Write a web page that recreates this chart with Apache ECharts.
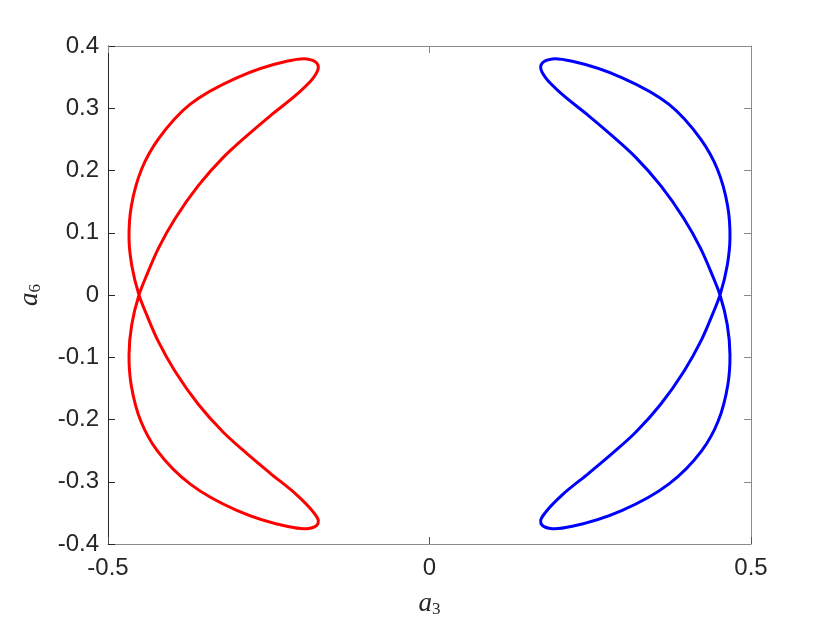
<!DOCTYPE html>
<html>
<head>
<meta charset="utf-8">
<script src="https://cdn.jsdelivr.net/npm/echarts@6/dist/echarts.min.js"></script>
<style>html,body{margin:0;padding:0;background:#fff;}#c{width:830px;height:623px;}</style>
</head>
<body>
<div id="c"></div>
<script>
// Red closed curve (a3, a6), in path order: upper lobe (outer up, inner down), then lower lobe (outer down, inner up)
const redX = [-0.4518,-0.4631,-0.4673,-0.4636,-0.4476,-0.4218,-0.3725,-0.2998,-0.2221,-0.1910,-0.1754,-0.1729,-0.1807,-0.2065,-0.2481,-0.2843,-0.3207,-0.3596,-0.3958,-0.4218,-0.4398,
              -0.4518,-0.4631,-0.4673,-0.4640,-0.4490,-0.4235,-0.3725,-0.2998,-0.2221,-0.1910,-0.1754,-0.1729,-0.1807,-0.2065,-0.2481,-0.2843,-0.3207,-0.3596,-0.3958,-0.4218,-0.4398];
const redY = [0,0.0479,0.0906,0.1433,0.2024,0.2503,0.3062,0.3489,0.3754,0.3792,0.3728,0.3649,0.3489,0.3222,0.2875,0.2556,0.2211,0.1757,0.1225,0.0746,0.0319,
              0,-0.0479,-0.0958,-0.1440,-0.2024,-0.2500,-0.3035,-0.3460,-0.3716,-0.3754,-0.3700,-0.3620,-0.3487,-0.3210,-0.2860,-0.2545,-0.2205,-0.1755,-0.1225,-0.0746,-0.0319];
// Blue closed curve (a3, a6), in path order
const blueX = [0.4518,0.4631,0.4673,0.4636,0.4476,0.4218,0.3725,0.2998,0.2221,0.1910,0.1754,0.1729,0.1807,0.2065,0.2481,0.2843,0.3207,0.3596,0.3958,0.4218,0.4398,
               0.4518,0.4631,0.4673,0.4640,0.4490,0.4235,0.3725,0.2998,0.2221,0.1910,0.1754,0.1729,0.1807,0.2065,0.2481,0.2843,0.3207,0.3596,0.3958,0.4218,0.4398];
const blueY = [0,0.0479,0.0906,0.1433,0.2024,0.2503,0.3062,0.3489,0.3754,0.3792,0.3728,0.3649,0.3489,0.3222,0.2875,0.2556,0.2211,0.1757,0.1225,0.0746,0.0319,
               0,-0.0479,-0.0958,-0.1440,-0.2024,-0.2500,-0.3035,-0.3460,-0.3716,-0.3754,-0.3700,-0.3620,-0.3487,-0.3210,-0.2860,-0.2545,-0.2205,-0.1755,-0.1225,-0.0746,-0.0319];
const xTicks = [-0.5, 0, 0.5];
const yTicks = [-0.4,-0.3,-0.2,-0.1,0,0.1,0.2,0.3,0.4];

const zip = (a,b) => a.map((v,i)=>[v,b[i]]);
const axisCol = '#262626';
const boxCol = '#8a8a8a';
const labelFont = {fontFamily:'Liberation Sans, Arial, sans-serif', fontSize:24, color:axisCol};
const nameRich = {
  a:{fontFamily:'Liberation Serif, DejaVu Serif, serif', fontStyle:'italic', fontSize:27, color:axisCol},
  s:{fontFamily:'Liberation Serif, DejaVu Serif, serif', fontSize:17, color:axisCol, padding:[12,0,0,0]}
};
const fmt = v => (Math.abs(v) < 1e-9 ? '0' : String(Math.round(v*10)/10));

// Closed centripetal Catmull-Rom curve through the pixel positions given by the axes
function closedPath(api, xs, ys) {
  const P = xs.map((x,i) => api.coord([x, ys[i]]));
  const n = P.length;
  const d = (a,b) => Math.sqrt(Math.hypot(b[0]-a[0], b[1]-a[1])) || 1e-6;
  let s = 'M' + P[0][0] + ' ' + P[0][1];
  for (let i = 0; i < n; i++) {
    const p0 = P[(i-1+n)%n], p1 = P[i], p2 = P[(i+1)%n], p3 = P[(i+2)%n];
    const d1 = d(p0,p1), d2 = d(p1,p2), d3 = d(p2,p3);
    const b1 = [0,1].map(k => (d1*d1*p2[k] - d2*d2*p0[k] + (2*d1*d1 + 3*d1*d2 + d2*d2)*p1[k]) / (3*d1*(d1+d2)));
    const b2 = [0,1].map(k => (d3*d3*p1[k] - d2*d2*p3[k] + (2*d3*d3 + 3*d3*d2 + d2*d2)*p2[k]) / (3*d3*(d3+d2)));
    s += ' C' + b1[0] + ' ' + b1[1] + ' ' + b2[0] + ' ' + b2[1] + ' ' + p2[0] + ' ' + p2[1];
  }
  return s + ' Z';
}
function curveSeries(xs, ys, color) {
  return {
    type:'custom', xAxisIndex:0, yAxisIndex:0, data:zip(xs, ys),
    encode:{x:0, y:1}, clip:false, silent:true, z:3,
    renderItem:(params, api) => {
      if (params.dataIndex !== 0) return null;
      return {type:'path', shape:{pathData:closedPath(api, xs, ys)},
              style:{stroke:color, lineWidth:3, fill:null, lineJoin:'round'}};
    }
  };
}

const chart = echarts.init(document.getElementById('c'), null, {renderer:'canvas'});
chart.setOption({
  animation:false,
  backgroundColor:'#fff',
  grid:{left:108, right:79, top:46, bottom:76, containLabel:false},
  xAxis:[{
    type:'value', min:-0.5, max:0.5, interval:0.5, position:'bottom',
    axisLine:{show:true, onZero:false, lineStyle:{color:boxCol, width:1}},
    axisTick:{show:true, inside:true, length:7, lineStyle:{color:'#555'}},
    axisLabel:Object.assign({margin:12, formatter:fmt}, labelFont),
    splitLine:{show:false},
    name:'{a|a}{s|3}', nameLocation:'middle', nameGap:45,
    nameTextStyle:{rich:nameRich}
  },{
    type:'value', min:-0.5, max:0.5, interval:0.5, position:'top',
    axisLine:{show:true, onZero:false, lineStyle:{color:boxCol, width:1}},
    axisTick:{show:true, inside:true, length:7, lineStyle:{color:boxCol}},
    axisLabel:{show:false}, splitLine:{show:false}
  }],
  yAxis:[{
    type:'value', min:-0.4, max:0.4, interval:0.1, position:'left',
    axisLine:{show:true, onZero:false, lineStyle:{color:axisCol, width:1}},
    axisTick:{show:true, inside:true, length:7, lineStyle:{color:axisCol}},
    axisLabel:Object.assign({margin:9, formatter:fmt}, labelFont),
    splitLine:{show:false},
    name:'{a|a}{s|6}', nameLocation:'middle', nameGap:64, nameRotate:90,
    nameTextStyle:{rich:nameRich}
  },{
    type:'value', min:-0.4, max:0.4, interval:0.1, position:'right',
    axisLine:{show:true, onZero:false, lineStyle:{color:boxCol, width:1}},
    axisTick:{show:true, inside:true, length:7, lineStyle:{color:boxCol}},
    axisLabel:{show:false}, splitLine:{show:false}
  }],
  series:[curveSeries(redX, redY, '#ff0000'), curveSeries(blueX, blueY, '#0000ff')]
});
</script>
</body>
</html>
